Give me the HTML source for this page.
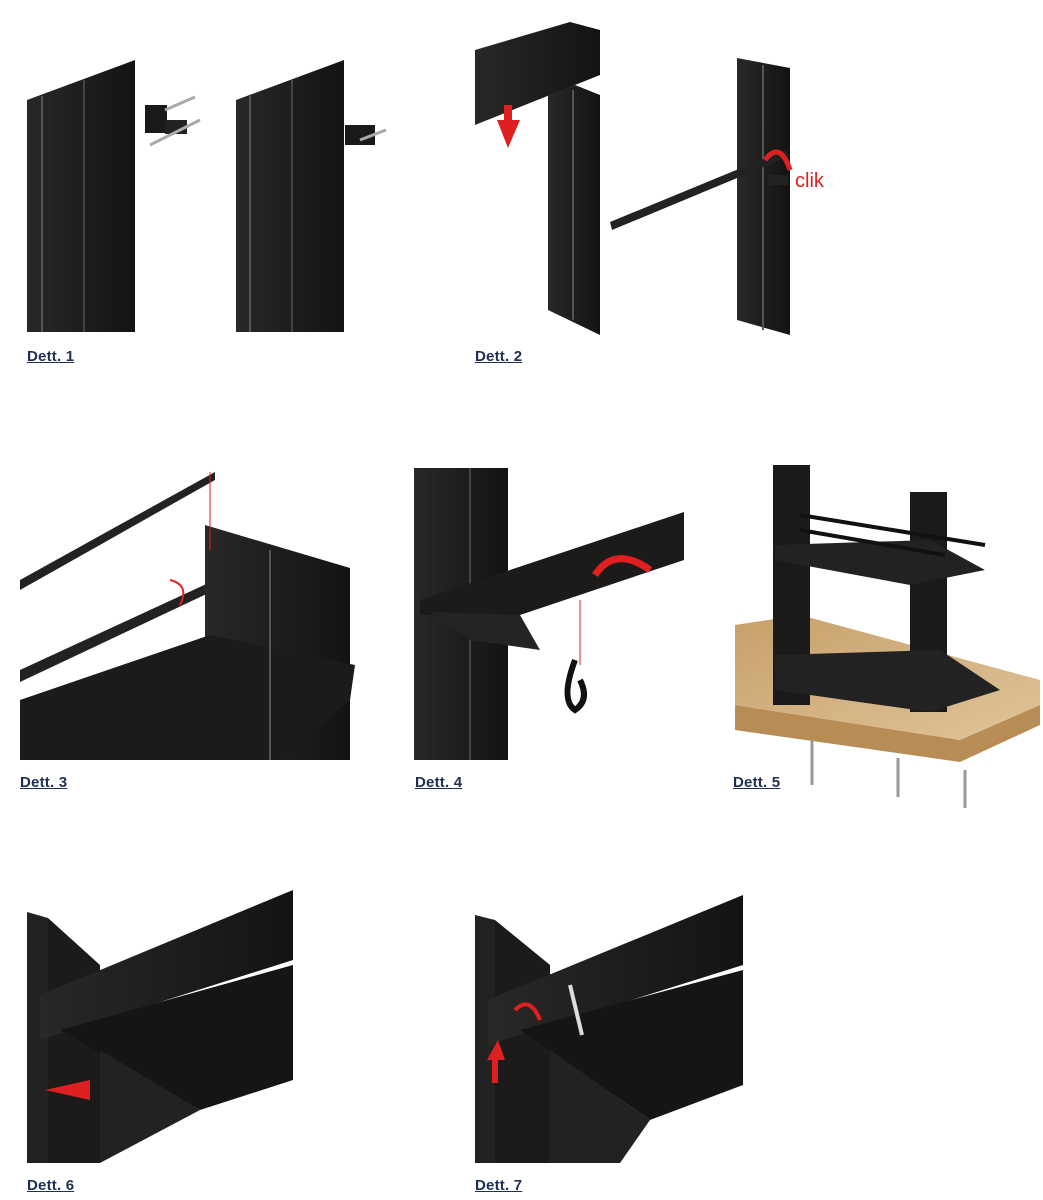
<!DOCTYPE html>
<html><head><meta charset="utf-8"><style>
body{margin:0;background:#fff;width:1043px;height:1200px;overflow:hidden;position:relative;font-family:"Liberation Sans",sans-serif}
.l{position:absolute;font-size:15px;color:#1d2f52;text-decoration:underline;letter-spacing:0.2px;font-weight:bold}
svg{position:absolute;left:0;top:0}
</style></head><body>
<svg width="1043" height="1200" viewBox="0 0 1043 1200">
<defs>
<linearGradient id="g" x1="0" x2="1"><stop offset="0" stop-color="#2a2826"/><stop offset="1" stop-color="#141312"/></linearGradient>
<linearGradient id="w" x1="0" x2="1" y1="0" y2="1"><stop offset="0" stop-color="#c7a06a"/><stop offset="1" stop-color="#e0c49a"/></linearGradient>
</defs>
<!-- Dett 1 -->
<polygon points="27,100 135,60 135,332 27,332" fill="url(#g)"/>
<line x1="42" y1="96" x2="42" y2="332" stroke="#555" stroke-width="2"/>
<line x1="84" y1="80" x2="84" y2="332" stroke="#444" stroke-width="2"/>
<rect x="145" y="105" width="22" height="28" fill="#1a1a1a"/>
<rect x="165" y="120" width="22" height="14" fill="#222"/>
<line x1="150" y1="145" x2="200" y2="120" stroke="#aaa" stroke-width="3"/>
<line x1="165" y1="110" x2="195" y2="97" stroke="#aaa" stroke-width="3"/>
<polygon points="236,100 344,60 344,332 236,332" fill="url(#g)"/>
<line x1="250" y1="96" x2="250" y2="332" stroke="#555" stroke-width="2"/>
<line x1="292" y1="80" x2="292" y2="332" stroke="#444" stroke-width="2"/>
<rect x="345" y="125" width="30" height="20" fill="#1a1a1a"/>
<line x1="360" y1="140" x2="386" y2="130" stroke="#aaa" stroke-width="3"/>
<!-- Dett 2 -->
<polygon points="475,50 570,22 600,30 600,75 475,125" fill="url(#g)"/>
<polygon points="548,95 575,85 600,95 600,335 548,310" fill="url(#g)"/>
<line x1="573" y1="90" x2="573" y2="320" stroke="#555" stroke-width="2"/>
<polygon points="497,120 520,120 508,148" fill="#e02020"/>
<rect x="504" y="105" width="8" height="18" fill="#e02020"/>
<polygon points="737,58 790,68 790,335 737,320" fill="url(#g)"/>
<line x1="763" y1="65" x2="763" y2="330" stroke="#555" stroke-width="2"/>
<polygon points="610,222 785,150 790,156 612,230" fill="#222"/>
<rect x="768" y="175" width="20" height="10" fill="#222"/>
<text x="795" y="187" font-size="20" fill="#e02020" font-family="Liberation Sans,sans-serif">clik</text>
<path d="M765,160 Q780,140 790,170" stroke="#e02020" stroke-width="5" fill="none"/>
<!-- Dett 3 -->
<polygon points="20,580 215,472 215,480 20,590" fill="#222"/>
<polygon points="20,670 215,580 215,590 20,682" fill="#222"/>
<polygon points="205,525 350,568 350,760 205,760" fill="url(#g)"/>
<polygon points="20,700 210,635 355,665 350,700 280,760 20,760" fill="#1c1b1a"/>
<line x1="270" y1="550" x2="270" y2="760" stroke="#555" stroke-width="2"/>
<path d="M170,580 Q190,585 180,605" stroke="#e02020" stroke-width="2" fill="none"/>
<line x1="210" y1="472" x2="210" y2="550" stroke="#e02020"/>
<!-- Dett 4 -->
<rect x="414" y="468" width="94" height="292" fill="url(#g)"/>
<line x1="470" y1="468" x2="470" y2="760" stroke="#444" stroke-width="2"/>
<polygon points="420,600 684,512 684,560 520,615 420,615" fill="#1d1b1a"/>
<polygon points="430,612 520,615 540,650 470,640" fill="#262423"/>
<path d="M595,575 Q615,545 650,570" stroke="#e02020" stroke-width="7" fill="none"/>
<path d="M575,660 Q560,700 575,710 Q590,700 580,680" stroke="#111" stroke-width="6" fill="none"/>
<line x1="580" y1="600" x2="580" y2="665" stroke="#e02020"/>
<!-- Dett 5 -->
<polygon points="735,625 800,615 1040,680 1040,705 960,740 735,705" style="fill:url(#w)"/>
<polygon points="735,705 960,740 1040,705 1040,725 960,762 735,730" fill="#b88d55"/>
<rect x="773" y="465" width="37" height="240" fill="#1a1a1a"/>
<rect x="910" y="492" width="37" height="220" fill="#1a1a1a"/>
<polygon points="775,655 940,650 1000,690 930,712 775,690" fill="#222"/>
<polygon points="775,545 930,540 985,570 910,585 775,560" fill="#222"/>
<line x1="800" y1="515" x2="985" y2="545" stroke="#111" stroke-width="4"/>
<line x1="800" y1="530" x2="945" y2="555" stroke="#111" stroke-width="4"/>
<line x1="812" y1="740" x2="812" y2="785" stroke="#999" stroke-width="3"/>
<line x1="898" y1="758" x2="898" y2="797" stroke="#999" stroke-width="3"/>
<line x1="965" y1="770" x2="965" y2="808" stroke="#999" stroke-width="3"/>
<!-- Dett 6 -->
<polygon points="27,912 48,918 48,1163 27,1163" fill="#222"/>
<polygon points="48,918 100,965 100,1163 48,1163" fill="#1c1b1a"/>
<polygon points="40,995 293,890 293,960 40,1040" fill="url(#g)"/>
<polygon points="60,1030 293,965 293,1080 200,1110" fill="#161514"/>
<polygon points="100,1050 200,1110 100,1163" fill="#232221"/>
<polygon points="45,1090 90,1080 90,1100" fill="#e02020"/>
<!-- Dett 7 -->
<polygon points="475,915 495,920 495,1163 475,1163" fill="#222"/>
<polygon points="495,920 550,965 550,1163 495,1163" fill="#1c1b1a"/>
<polygon points="488,1000 743,895 743,965 488,1045" fill="url(#g)"/>
<polygon points="520,1030 743,970 743,1085 650,1120" fill="#161514"/>
<polygon points="550,1050 650,1120 620,1163 550,1163" fill="#232221"/>
<polygon points="487,1060 498,1040 505,1060" fill="#e02020"/>
<rect x="492" y="1058" width="6" height="25" fill="#e02020"/>
<path d="M515,1010 Q530,995 540,1020" stroke="#e02020" stroke-width="4" fill="none"/>
<line x1="570" y1="985" x2="582" y2="1035" stroke="#ddd" stroke-width="4"/>
</svg>
<div class="l" style="left:27px;top:348px">Dett. 1</div>
<div class="l" style="left:475px;top:348px">Dett. 2</div>
<div class="l" style="left:20px;top:774px">Dett. 3</div>
<div class="l" style="left:415px;top:774px">Dett. 4</div>
<div class="l" style="left:733px;top:774px">Dett. 5</div>
<div class="l" style="left:27px;top:1177px">Dett. 6</div>
<div class="l" style="left:475px;top:1177px">Dett. 7</div>
</body></html>
